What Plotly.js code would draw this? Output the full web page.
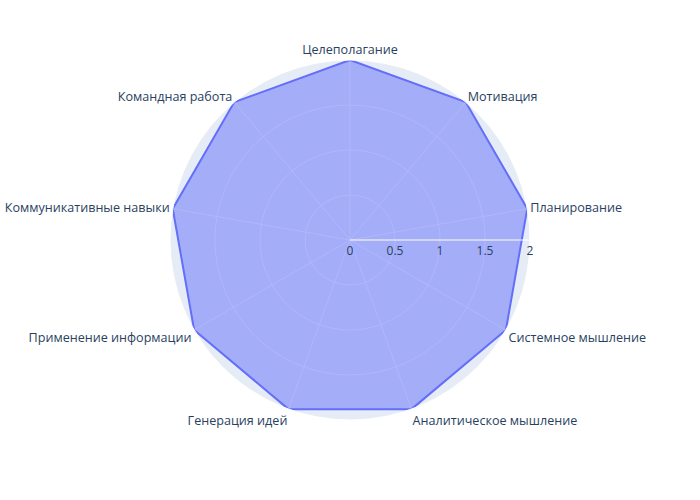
<!DOCTYPE html>
<html>
<head>
<meta charset="utf-8">
<script src="https://cdn.plot.ly/plotly-3.0.1.min.js"></script>
<style>html,body{margin:0;padding:0;}#chart{width:700px;height:500px;}</style>
</head>
<body>
<div id="chart"></div>
<script>
const categories = ["Целеполагание", "Мотивация", "Планирование", "Системное мышление", "Аналитическое мышление", "Генерация идей", "Применение информации", "Коммуникативные навыки", "Командная работа"];
const values = [2, 2, 2, 2, 2, 2, 2, 2, 2];

const trace = {
  type: "scatterpolar",
  r: values.concat([values[0]]),
  theta: categories.concat([categories[0]]),
  fill: "toself",
  mode: "lines",
  line: {color: "#636efa"},
  fillcolor: "rgba(99,110,250,0.5)"
};

const layout = {
  width: 700,
  height: 500,
  margin: {t: 60, b: 80, l: 80, r: 80},
  paper_bgcolor: "white",
  font: {family: "'Open Sans', verdana, arial, sans-serif", size: 12, color: "#2a3f5f"},
  showlegend: false,
  polar: {
    bgcolor: "#E5ECF6",
    angularaxis: {direction: "clockwise", rotation: 90, gridcolor: "white", linecolor: "white", ticks: "", tickfont: {size: 12.6}},
    radialaxis: {visible: true, range: [0, 2], gridcolor: "white", linecolor: "white", ticks: "", tickvals: [0, 0.5, 1, 1.5, 2], ticktext: ["0", "0.5", "1", "1.5", "2"]}
  }
};

Plotly.newPlot("chart", [trace], layout, {displayModeBar: false});
</script>
</body>
</html>
